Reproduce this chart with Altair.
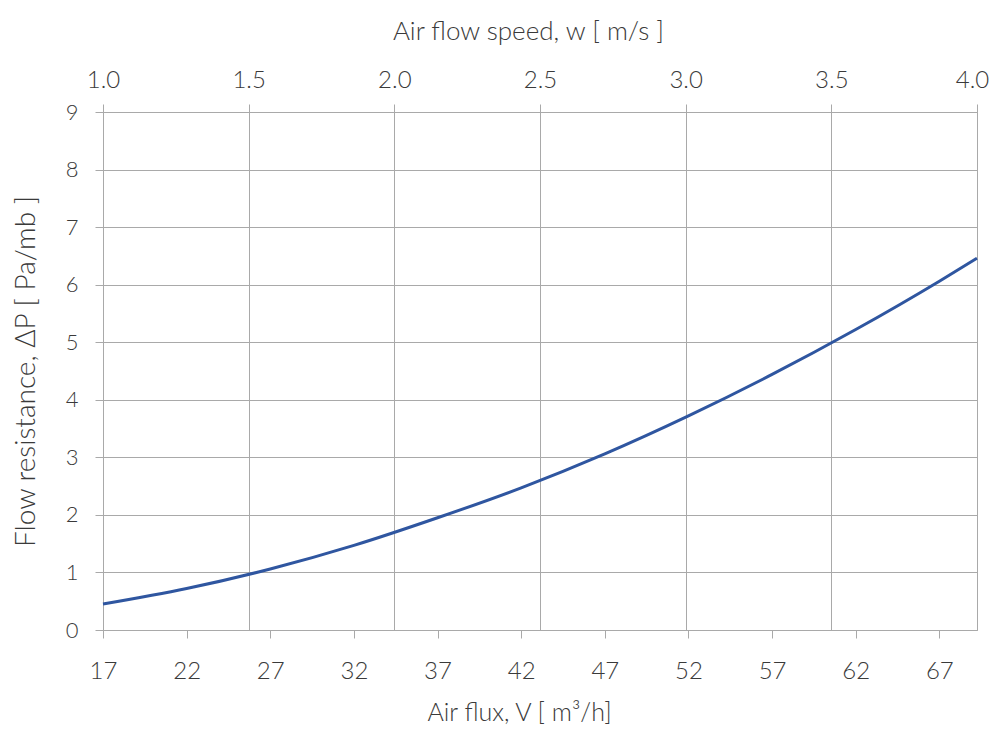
import altair as alt
import pandas as pd

# Curve values
flux = [17, 22, 27, 32, 37, 42, 47, 52, 57, 62, 67, 69.25]
resistance = [0.45, 0.72, 1.06, 1.47, 1.95, 2.47, 3.06, 3.72, 4.44, 5.22, 6.06, 6.46]

# Axis ticks
flux_ticks = [17, 22, 27, 32, 37, 42, 47, 52, 57, 62, 67]
speed_ticks = [1.0, 1.5, 2.0, 2.5, 3.0, 3.5, 4.0]
dp_ticks = [0, 1, 2, 3, 4, 5, 6, 7, 8, 9]

curve_df = pd.DataFrame({"flux": flux, "dp": resistance})
speed_df = pd.DataFrame({"speed": [speed_ticks[0], speed_ticks[-1]]})

GRID = "#a9a9a9"
TEXT = "#3a3a3a"
FONT = "Lato"

line = alt.Chart(curve_df).mark_line(
    color="#2f56a0", strokeWidth=3, interpolate="monotone"
).encode(
    x=alt.X(
        "flux:Q",
        scale=alt.Scale(domain=[17, 69.25], nice=False, zero=False),
        axis=alt.Axis(
            orient="bottom",
            values=flux_ticks,
            format="d",
            title="Air flux, V [ m³/h]",
            tickSize=8,
            labelPadding=21,
            labelFontSize=24,
            titleFontSize=25,
            titlePadding=17,
            titleX=416,
            labelFlush=False,
            labelOverlap=False,
        ),
    ),
    y=alt.Y(
        "dp:Q",
        scale=alt.Scale(domain=[0, 9], nice=False),
        axis=alt.Axis(
            values=dp_ticks,
            format="d",
            title="Flow resistance, ΔP [ Pa/mb ]",
            tickSize=8,
            labelPadding=17,
            labelFontSize=22,
            titleFontSize=28,
            titlePadding=25,
            labelOverlap=False,
        ),
    ),
)

top = alt.Chart(speed_df).mark_point(opacity=0).encode(
    x=alt.X(
        "speed:Q",
        scale=alt.Scale(domain=[1.0, 4.0], nice=False, zero=False),
        axis=alt.Axis(
            orient="top",
            values=speed_ticks,
            format=".1f",
            title="Air flow speed, w [ m/s ]",
            tickSize=8,
            labelPadding=12,
            labelFontSize=24,
            titleFontSize=26,
            titlePadding=24,
            titleX=425,
            labelFlush=False,
            labelOffset={"condition": {"test": "datum.value >= 4", "value": -5}, "value": 0},
            labelOverlap=False,
        ),
    ),
)

chart = (
    alt.layer(top, line)
    .resolve_scale(x="independent")
    .properties(
        width=874,
        height=518,
        autosize=alt.AutoSizeParams(type="none"),
        padding={"left": 95, "top": 104, "right": 13, "bottom": 96},
    )
    .configure_view(stroke=GRID, strokeWidth=1)
    .configure_axis(
        grid=True,
        gridColor=GRID,
        gridWidth=1,
        gridOpacity=1,
        tickColor=GRID,
        tickWidth=1,
        domain=False,
        labelFont=FONT,
        titleFont=FONT,
        labelColor=TEXT,
        titleColor=TEXT,
        titleFontWeight=300,
        labelFontWeight=300,
    )
)

chart.save("out.html", embed_options={"renderer": "svg", "actions": False})
